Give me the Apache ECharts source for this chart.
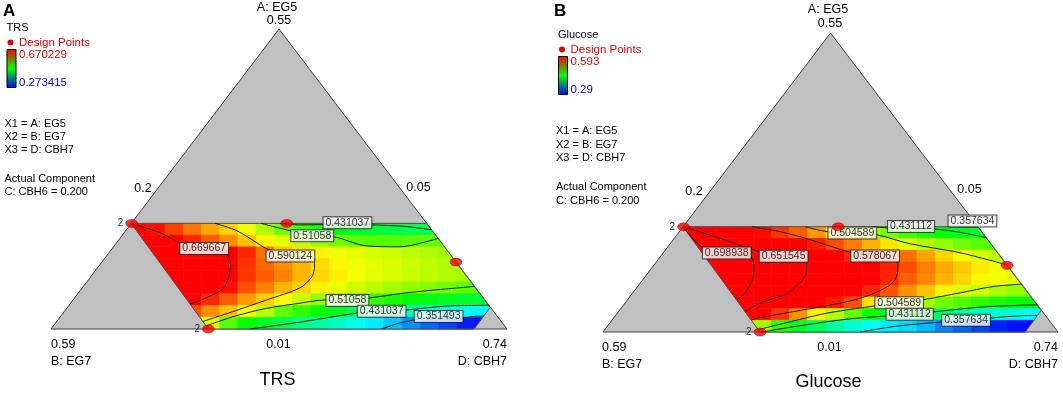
<!DOCTYPE html>
<html>
<head>
<meta charset="utf-8">
<script src="https://cdn.jsdelivr.net/npm/echarts@6/dist/echarts.min.js"></script>
<style>
  html, body { margin: 0; padding: 0; background: #fff; }
  #chart { width: 1063px; height: 394px; }
</style>
</head>
<body>
<div id="chart"></div>
<script>
// plot units: u along the B-D base (0..1), v towards the A vertex (0..1)
const triangle = [[0, 0], [1, 0], [0.5, 1]]
const region = [[0.345, 0], [0.9275, 0], [0.963, 0.072], [0.824, 0.352], [0.176, 0.352]]

// response grid, top row first, 20 columns from u=0.17 in steps of 0.04
const trsRows = [
  [0.675, 0.665, 0.645, 0.625, 0.605, 0.59, 0.565, 0.54, 0.515, 0.495, 0.48, 0.465, 0.455, 0.45, 0.445, 0.44, 0.44, null, null, null],
  [0.685, 0.68, 0.67, 0.655, 0.635, 0.615, 0.595, 0.575, 0.56, 0.545, 0.53, 0.515, 0.507, 0.505, 0.505, 0.507, 0.51, 0.51, null, null],
  [null, 0.69, 0.69, 0.685, 0.68, 0.672, 0.655, 0.625, 0.595, 0.583, 0.575, 0.565, 0.56, 0.555, 0.55, 0.545, 0.54, 0.535, null, null],
  [null, 0.695, 0.695, 0.69, 0.685, 0.67, 0.65, 0.63, 0.615, 0.60, 0.585, 0.575, 0.565, 0.56, 0.555, 0.55, 0.545, 0.54, 0.535, null],
  [null, null, 0.70, 0.695, 0.685, 0.67, 0.65, 0.635, 0.62, 0.60, 0.587, 0.577, 0.567, 0.56, 0.555, 0.55, 0.545, 0.54, 0.535, null],
  [null, null, 0.695, 0.69, 0.68, 0.665, 0.64, 0.62, 0.60, 0.588, 0.575, 0.563, 0.553, 0.545, 0.535, 0.528, 0.522, 0.515, 0.508, 0.50],
  [null, null, 0.68, 0.675, 0.655, 0.635, 0.61, 0.59, 0.57, 0.55, 0.53, 0.512, 0.50, 0.49, 0.48, 0.47, 0.465, 0.46, 0.455, 0.45],
  [null, null, null, 0.64, 0.615, 0.595, 0.57, 0.545, 0.51, 0.49, 0.475, 0.46, 0.44, 0.425, 0.415, 0.405, 0.395, 0.385, 0.375, 0.37],
  [null, null, null, 0.60, 0.56, 0.505, 0.475, 0.455, 0.44, 0.42, 0.41, 0.395, 0.38, 0.365, 0.35, 0.33, 0.315, 0.30, 0.285, 0.28]
]
const glcRows = [
  [0.69, 0.645, 0.625, 0.605, 0.59, 0.578, 0.565, 0.548, 0.525, 0.505, 0.49, 0.475, 0.46, 0.45, 0.44, 0.433, 0.428, null, null, null],
  [0.70, 0.685, 0.665, 0.645, 0.635, 0.62, 0.605, 0.585, 0.57, 0.555, 0.54, 0.525, 0.508, 0.495, 0.485, 0.475, 0.468, 0.46, null, null],
  [null, 0.705, 0.70, 0.697, 0.66, 0.652, 0.648, 0.625, 0.60, 0.582, 0.578, 0.575, 0.56, 0.545, 0.53, 0.515, 0.505, 0.498, null, null],
  [null, 0.715, 0.715, 0.705, 0.69, 0.675, 0.657, 0.645, 0.625, 0.61, 0.595, 0.583, 0.57, 0.555, 0.543, 0.533, 0.523, 0.513, 0.505, null],
  [null, null, 0.715, 0.705, 0.69, 0.675, 0.658, 0.645, 0.625, 0.61, 0.597, 0.582, 0.565, 0.553, 0.54, 0.53, 0.52, 0.513, 0.508, null],
  [null, null, 0.705, 0.70, 0.685, 0.665, 0.645, 0.628, 0.612, 0.598, 0.583, 0.568, 0.55, 0.535, 0.52, 0.508, 0.50, 0.492, 0.485, 0.48],
  [null, null, 0.69, 0.68, 0.65, 0.635, 0.62, 0.60, 0.585, 0.57, 0.525, 0.502, 0.498, 0.49, 0.475, 0.465, 0.455, 0.448, 0.442, 0.437],
  [null, null, null, 0.635, 0.60, 0.578, 0.55, 0.52, 0.495, 0.47, 0.445, 0.43, 0.43, 0.428, 0.41, 0.395, 0.385, 0.378, 0.372, 0.368],
  [null, null, null, 0.54, 0.49, 0.455, 0.432, 0.415, 0.395, 0.38, 0.37, 0.36, 0.355, 0.345, 0.33, 0.32, 0.31, 0.30, 0.295, 0.29]
]

// contour levels, one path and one label spot per entry
const trsLevels = [0.669667, 0.590124, 0.51058, 0.431037, 0.51058, 0.431037, 0.351493]
const trsPaths = [
  [[0.177, 0.351], [0.241, 0.32], [0.283, 0.287], [0.336, 0.267], [0.385, 0.25], [0.394, 0.215], [0.389, 0.17], [0.378, 0.135], [0.36, 0.118], [0.33, 0.097], [0.305, 0.083]],
  [[0.36, 0.352], [0.41, 0.326], [0.476, 0.265], [0.525, 0.243], [0.575, 0.238], [0.578, 0.21], [0.572, 0.174], [0.546, 0.137], [0.473, 0.097], [0.399, 0.058], [0.333, 0.025]],
  [[0.461, 0.352], [0.526, 0.327], [0.573, 0.311], [0.618, 0.308], [0.692, 0.277], [0.765, 0.274], [0.838, 0.297], [0.849, 0.303]],
  [[0.502, 0.352], [0.546, 0.347], [0.649, 0.349], [0.704, 0.347], [0.776, 0.342], [0.835, 0.331]],
  [[0.34, 0.01], [0.399, 0.041], [0.473, 0.069], [0.546, 0.086], [0.603, 0.097], [0.649, 0.097], [0.695, 0.103], [0.776, 0.12], [0.849, 0.131], [0.929, 0.142]],
  [[0.436, 0], [0.546, 0.023], [0.671, 0.053], [0.725, 0.059], [0.776, 0.063], [0.864, 0.076], [0.96, 0.079]],
  [[0.725, 0], [0.765, 0.02], [0.849, 0.041], [0.901, 0.037], [0.934, 0.043], [0.949, 0.043]]
]
const trsLabelAt = [[0.336, 0.268], [0.525, 0.243], [0.573, 0.311], [0.65, 0.354], [0.65, 0.095], [0.725, 0.059], [0.85, 0.042]]

const glcLevels = [0.698938, 0.651545, 0.578067, 0.504589, 0.431112, 0.357634, 0.504589, 0.431112, 0.357634]
const glcPaths = [
  [[0.176, 0.352], [0.193, 0.32], [0.22, 0.282], [0.272, 0.264], [0.325, 0.25], [0.332, 0.218], [0.33, 0.182], [0.312, 0.131], [0.294, 0.108]],
  [[0.176, 0.352], [0.246, 0.319], [0.345, 0.268], [0.397, 0.253], [0.446, 0.245], [0.448, 0.215], [0.444, 0.185], [0.407, 0.131], [0.347, 0.098], [0.312, 0.069]],
  [[0.327, 0.352], [0.391, 0.335], [0.455, 0.309], [0.547, 0.265], [0.598, 0.254], [0.648, 0.24], [0.648, 0.208], [0.637, 0.165], [0.598, 0.131], [0.554, 0.108], [0.492, 0.088], [0.418, 0.068], [0.345, 0.048], [0.326, 0.04]],
  [[0.444, 0.352], [0.495, 0.335], [0.548, 0.331], [0.602, 0.325], [0.675, 0.295], [0.785, 0.265], [0.889, 0.224]],
  [[0.59, 0.352], [0.64, 0.347], [0.677, 0.346], [0.73, 0.344], [0.774, 0.336], [0.842, 0.316]],
  [[0.77, 0.352], [0.8, 0.351], [0.824, 0.351]],
  [[0.341, 0.008], [0.411, 0.034], [0.499, 0.065], [0.651, 0.098], [0.703, 0.108], [0.785, 0.131], [0.857, 0.152], [0.92, 0.16]],
  [[0.35, 0], [0.433, 0.021], [0.543, 0.044], [0.675, 0.059], [0.774, 0.075], [0.846, 0.085], [0.954, 0.091]],
  [[0.565, 0], [0.653, 0.021], [0.799, 0.04], [0.853, 0.047], [0.932, 0.055], [0.954, 0.055]]
]
const glcLabelAt = [[0.272, 0.264], [0.397, 0.253], [0.598, 0.254], [0.548, 0.331], [0.677, 0.353], [0.812, 0.371], [0.651, 0.098], [0.674, 0.059], [0.798, 0.039]]

// design points (same design in both panels) and replicate counts
const designPts = [[0.177, 0.352], [0.517, 0.352], [0.888, 0.223], [0.345, 0]]
const designReps = [2, 1, 1, 2]

const trsRange = [0.273415, 0.670229]
const glcRange = [0.29, 0.593]

const FONT = '"Liberation Sans", Arial, sans-serif'
const palette = ['#0000ff', '#00ffff', '#00ff00', '#ffff00', '#ff0000']
const COL0 = 0.17, COLW = 0.04, ROW_TOP = 0.352, ROWH = 0.352 / 9

var chart = echarts.init(document.getElementById('chart'))

function clipPoly(poly, clip) {
  let out = poly
  for (let i = 0; i < clip.length && out.length; i++) {
    const a = clip[i], b = clip[(i + 1) % clip.length]
    const side = p => (b[0] - a[0]) * (p[1] - a[1]) - (b[1] - a[1]) * (p[0] - a[0])
    const inp = out
    out = []
    for (let j = 0; j < inp.length; j++) {
      const p = inp[j], q = inp[(j + 1) % inp.length]
      const sp = side(p), sq = side(q)
      if (sp >= 0) out.push(p)
      if ((sp >= 0) !== (sq >= 0)) {
        const t = sp / (sp - sq)
        out.push([p[0] + t * (q[0] - p[0]), p[1] + t * (q[1] - p[1])])
      }
    }
  }
  return out
}

function cells(rows) {
  const out = []
  rows.forEach((row, r) => row.forEach((v, c) => {
    if (v == null) return
    out.push([COL0 + (c + 0.5) * COLW, ROW_TOP - (r + 0.5) * ROWH, v])
  }))
  return out
}

function renderCell(params, api) {
  const cu = api.value(0), cv = api.value(1)
  const sq = [[cu - COLW / 2, cv - ROWH / 2], [cu + COLW / 2, cv - ROWH / 2],
              [cu + COLW / 2, cv + ROWH / 2], [cu - COLW / 2, cv + ROWH / 2]]
  const poly = clipPoly(sq, region)
  if (poly.length < 3) return null
  const color = api.visual('color')
  return {
    type: 'polygon',
    shape: { points: poly.map(p => api.coord(p)) },
    style: { fill: color, stroke: color, lineWidth: 0.6 }
  }
}

function shape(points, style) {
  return function (params, api) {
    return { type: 'polygon', shape: { points: points.map(p => api.coord(p)) }, style: style }
  }
}

let series = []
let heatIndex = []

function addPanel(gi, rows, paths, levels, labelAt) {
  const ax = { xAxisIndex: gi, yAxisIndex: gi }
  series.push(Object.assign({
    type: 'custom', silent: true, z: 1, data: [[0.5, 0.5]],
    renderItem: shape(triangle, { fill: '#c0c0c0', stroke: '#404040', lineWidth: 1 })
  }, ax))
  heatIndex.push(series.length)
  series.push(Object.assign({
    type: 'custom', silent: true, z: 2, data: cells(rows),
    encode: { x: 0, y: 1 }, renderItem: renderCell
  }, ax))
  series.push(Object.assign({
    type: 'custom', silent: true, z: 3, data: [[0.5, 0.2]],
    renderItem: shape(region, { fill: 'none', stroke: '#505050', lineWidth: 1 })
  }, ax))
  paths.forEach(pts => {
    series.push(Object.assign({
      type: 'line', data: pts, symbol: 'none', smooth: 0.3, silent: true, z: 4,
      lineStyle: { color: '#1a1a1a', width: 1 }
    }, ax))
  })
  series.push(Object.assign({
    type: 'scatter', silent: true, z: 5, symbolSize: 0.1,
    itemStyle: { color: 'transparent' },
    data: labelAt.map((p, i) => [p[0], p[1], levels[i]]),
    label: {
      show: true, position: 'inside', formatter: p => String(p.value[2]),
      fontFamily: FONT, fontSize: 10.5, color: '#000', lineHeight: 10,
      backgroundColor: '#fff', borderColor: '#222', borderWidth: 1, padding: [1, 2, 0, 2]
    }
  }, ax))
  series.push(Object.assign({
    type: 'scatter', silent: true, z: 6, symbol: 'circle', symbolSize: [12, 8],
    itemStyle: { color: '#f00000', borderColor: '#9a0000', borderWidth: 0.6 },
    data: designPts.map((p, i) => [p[0], p[1], designReps[i]]),
    label: {
      show: true, position: 'left', distance: 2, fontFamily: FONT, fontSize: 10, color: '#000',
      formatter: p => (p.value[2] > 1 ? String(p.value[2]) : '')
    }
  }, ax))
}

addPanel(0, trsRows, trsPaths, trsLevels, trsLabelAt)
addPanel(1, glcRows, glcPaths, glcLevels, glcLabelAt)

function txt(x, y, text, size, opt) {
  opt = opt || {}
  return {
    type: 'text', x: x, y: y, silent: true, z: 10,
    style: {
      text: text, fontSize: size, fontFamily: FONT, fontWeight: opt.bold ? 'bold' : 'normal',
      fill: opt.color || '#000', align: opt.align || 'left', verticalAlign: 'middle'
    }
  }
}

function legend(p) {
  const bar = new echarts.graphic.LinearGradient(0, 0, 0, 1, [
    { offset: 0, color: '#ff0000' }, { offset: 0.5, color: '#00ff00' }, { offset: 1, color: '#0000ff' }
  ])
  return [
    txt(p.letter[0], p.letter[1], p.name, 17, { bold: true }),
    txt(p.x + 2, p.y, p.resp, 11),
    { type: 'circle', silent: true, shape: { cx: p.x + 6, cy: p.y + 14.5, r: 3 }, style: { fill: '#e00000' } },
    txt(p.x + 14.5, p.y + 14.5, 'Design Points', 11.5, { color: '#e00000' }),
    { type: 'rect', silent: true, shape: { x: p.x + 2.5, y: p.y + 21.5, width: 9, height: 38 }, style: { fill: bar, stroke: '#000', lineWidth: 1 } },
    txt(p.x + 14.5, p.y + 26.5, p.hi, 11.5, { color: '#e00000' }),
    txt(p.x + 14.5, p.y + 54.7, p.lo, 11.5, { color: '#0000e0' }),
    txt(p.x, p.y + p.gap, 'X1 = A: EG5', 11),
    txt(p.x, p.y + p.gap + p.step, 'X2 = B: EG7', 11),
    txt(p.x, p.y + p.gap + 2 * p.step, 'X3 = D: CBH7', 11),
    txt(p.x, p.y + p.gap + 2 * p.step + 29, 'Actual Component', 11),
    txt(p.x, p.y + p.gap + 3 * p.step + 29, 'C: CBH6 = 0.200', 11)
  ]
}

function corners(dx, dy, title) {
  return [
    txt(277 + dx, 7.5 + dy, 'A: EG5', 12.5, { align: 'center' }),
    txt(279 + dx, 20.7 + dy, '0.55', 12.5, { align: 'center' }),
    txt(143 + dx, 189 + dy, '0.2', 12.5, { align: 'center' }),
    txt(418.5 + dx, 187.5 + dy, '0.05', 12.5, { align: 'center' }),
    txt(51 + dx, 345 + dy, '0.59', 12.5),
    txt(51 + dx, 361.7 + dy, 'B: EG7', 12.5),
    txt(278.5 + dx, 345 + dy, '0.01', 12.5, { align: 'center' }),
    txt(507 + dx, 345 + dy, '0.74', 12.5, { align: 'right' }),
    txt(507 + dx, 361.7 + dy, 'D: CBH7', 12.5, { align: 'right' }),
    txt(277.5 + dx, 380 + dy, title, 18, { align: 'center' })
  ]
}

const graphics = [].concat(
  legend({ letter: [3, 11], name: 'A', resp: 'TRS', x: 4.5, y: 28, gap: 96.3, step: 12.9, hi: '0.670229', lo: '0.273415' }),
  legend({ letter: [554, 11], name: 'B', resp: 'Glucose', x: 556, y: 35, gap: 96, step: 13.6, hi: '0.593', lo: '0.29' }),
  corners(0, 0, 'TRS'),
  corners(551, 2.5, 'Glucose')
)

chart.setOption({
  animation: false,
  grid: [
    { left: 51, top: 29, width: 456, height: 300 },
    { left: 603, top: 33, width: 455, height: 299 }
  ],
  xAxis: [
    { type: 'value', gridIndex: 0, min: 0, max: 1, show: false },
    { type: 'value', gridIndex: 1, min: 0, max: 1, show: false }
  ],
  yAxis: [
    { type: 'value', gridIndex: 0, min: 0, max: 1, show: false },
    { type: 'value', gridIndex: 1, min: 0, max: 1, show: false }
  ],
  visualMap: [
    { type: 'continuous', show: false, seriesIndex: heatIndex[0], dimension: 2,
      min: trsRange[0], max: trsRange[1], inRange: { color: palette } },
    { type: 'continuous', show: false, seriesIndex: heatIndex[1], dimension: 2,
      min: glcRange[0], max: glcRange[1], inRange: { color: palette } }
  ],
  graphic: graphics,
  series
})
</script>
</body>
</html>
